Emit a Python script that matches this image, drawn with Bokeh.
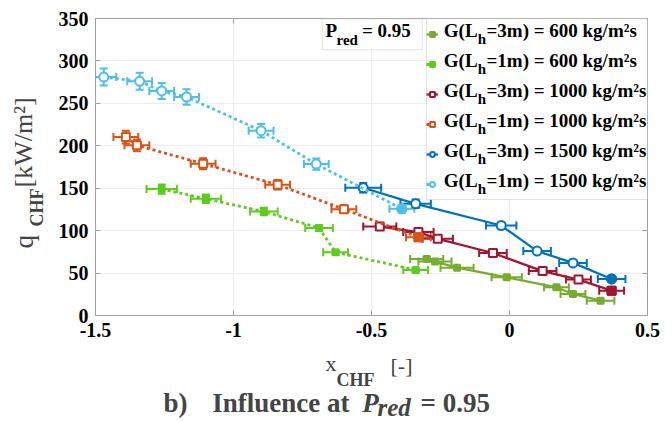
import math
from bokeh.plotting import figure
from bokeh.layouts import row, column
from bokeh.models import (Whisker, TeeHead, Label, Legend, LegendItem, BoxAnnotation,
                          FixedTicker, LinearAxis, ColumnDataSource, Range1d, CustomJSTickFormatter)
from bokeh.embed import file_html
from bokeh.resources import INLINE

# ---------------- data ----------------
x_3m_600 = [-0.30, -0.27, -0.19, -0.01, 0.17, 0.23, 0.33]
q_3m_600 = [66.7, 63.5, 56.4, 45.0, 33.2, 25.4, 17.5]
xe_3m_600 = [0.060, 0.060, 0.060, 0.055, 0.045, 0.045, 0.050]
qe_3m_600 = [2.5, 2.5, 2.0, 1.6, 1.2, 1.0, 0.7]

x_1m_600 = [-1.26, -1.10, -0.89, -0.69, -0.63, -0.34]
q_1m_600 = [149.0, 137.5, 122.5, 103.0, 74.5, 53.7]
xe_1m_600 = [0.055, 0.055, 0.050, 0.050, 0.045, 0.045]
qe_1m_600 = [5.5, 5.0, 4.5, 3.5, 2.5, 2.0]

x_3m_1000 = [-0.47, -0.33, -0.26, -0.06, 0.12, 0.25, 0.37]
q_3m_1000 = [104.8, 98.3, 90.3, 73.6, 52.3, 42.3, 29.3]
xe_3m_1000 = [0.060, 0.055, 0.055, 0.050, 0.050, 0.045, 0.045]
qe_3m_1000 = [4.0, 3.5, 3.2, 2.7, 2.0, 1.5, 1.0]

x_1m_1000 = [-1.39, -1.35, -1.11, -0.84, -0.60, -0.33]
q_1m_1000 = [210.3, 200.5, 178.9, 154.1, 125.3, 92.2]
xe_1m_1000 = [0.045, 0.045, 0.045, 0.045, 0.045, 0.045]
qe_1m_1000 = [7.5, 7.0, 6.5, 5.5, 4.5, 3.5]

x_3m_1500 = [-0.53, -0.34, -0.03, 0.10, 0.23, 0.37]
q_3m_1500 = [150.5, 131.6, 106.0, 75.9, 62.0, 43.1]
xe_3m_1500 = [0.065, 0.055, 0.055, 0.050, 0.050, 0.050]
qe_3m_1500 = [5.5, 5.0, 4.0, 2.8, 2.3, 1.6]

x_1m_1500 = [-1.47, -1.34, -1.26, -1.17, -0.90, -0.70, -0.39]
q_1m_1500 = [281.0, 276.0, 264.6, 257.5, 217.8, 178.4, 125.7]
xe_1m_1500 = [0.045, 0.045, 0.045, 0.045, 0.045, 0.045, 0.045]
qe_1m_1500 = [10.0, 10.0, 9.5, 9.0, 8.0, 6.5, 4.5]

x_ticks = [-1.5, -1.0, -0.5, 0.0, 0.5]
y_ticks = [0, 50, 100, 150, 200, 250, 300, 350]

legend_rest = ["=3m) = 600 kg/m\u00b2s", "=1m) = 600 kg/m\u00b2s",
               "=3m) = 1000 kg/m\u00b2s", "=1m) = 1000 kg/m\u00b2s",
               "=3m) = 1500 kg/m\u00b2s", "=1m) = 1500 kg/m\u00b2s"]

FONT = "Liberation Serif"
GRAY = "#a0a0a0"
SHIFT = 0.35     # empirical correction of the label anchor (fraction of font size)

# page geometry: left strip (y label) | main plot over caption strip
LW = 48                  # width of the left strip
MH = 350                 # height of the main figure
TOTAL_W, TOTAL_H = 672, 422
FL, FR, FT, FB = 95, 647, 18, 315   # plot frame edges on the page

p = figure(frame_width=FR - FL, frame_height=FB - FT,
           x_range=Range1d(-1.5, 0.5), y_range=Range1d(0, 350),
           output_backend="svg", toolbar_location=None,
           min_border_left=FL - LW, min_border_right=TOTAL_W - FR,
           min_border_top=FT, min_border_bottom=MH - FB)
p.title.visible = False
p.background_fill_color = "white"
p.border_fill_color = "white"
p.outline_line_color = GRAY
p.grid.grid_line_color = "#ececec"
p.grid.grid_line_width = 1

for ax in (p.xaxis[0], p.yaxis[0]):
    ax.axis_line_color = None
    ax.major_tick_in = 5
    ax.major_tick_out = 0
    ax.minor_tick_line_color = None
    ax.major_tick_line_color = GRAY
    ax.major_label_text_font = FONT
    ax.major_label_text_font_style = "bold"
    ax.major_label_text_font_size = "20px"
    ax.major_label_text_color = "black"
    ax.axis_label_standoff = 0
p.xaxis.ticker = FixedTicker(ticks=x_ticks)
p.yaxis.ticker = FixedTicker(ticks=y_ticks)
p.xaxis.formatter = CustomJSTickFormatter(code="return tick.toString();")
p.xaxis.major_label_standoff = 7
p.yaxis.major_label_standoff = 7

for loc, tk in (("right", y_ticks), ("above", x_ticks)):
    ax = LinearAxis(ticker=FixedTicker(ticks=tk), axis_line_color=None,
                    major_tick_in=5, major_tick_out=0, minor_tick_line_color=None,
                    major_tick_line_color=GRAY, major_label_text_font_size="0px",
                    major_label_standoff=0, axis_label_standoff=0)
    p.add_layout(ax, loc)

series = [
    (x_3m_600, q_3m_600, xe_3m_600, qe_3m_600, "#77AC30", False, "square", 6, True),
    (x_1m_600, q_1m_600, xe_1m_600, qe_1m_600, "#5ccd1e", True, "square", 6, True),
    (x_3m_1000, q_3m_1000, xe_3m_1000, qe_3m_1000, "#A2142F", False, "square", 8, False),
    (x_1m_1000, q_1m_1000, xe_1m_1000, qe_1m_1000, "#D95319", True, "square", 8, False),
    (x_3m_1500, q_3m_1500, xe_3m_1500, qe_3m_1500, "#0072BD", False, "circle", 9, False),
    (x_1m_1500, q_1m_1500, xe_1m_1500, qe_1m_1500, "#4DBEEE", True, "circle", 9, False),
]

items = []
for xs, qs, xe, qe, col, dotted, mk, sz, filled in series:
    src = ColumnDataSource(dict(
        x=xs, q=qs,
        xl=[a - e for a, e in zip(xs, xe)], xu=[a + e for a, e in zip(xs, xe)],
        ql=[a - e for a, e in zip(qs, qe)], qu=[a + e for a, e in zip(qs, qe)]))
    if dotted:
        ln = p.line("x", "q", source=src, line_color=col, line_width=2.8, line_dash="3 3")
    else:
        ln = p.line("x", "q", source=src, line_color=col, line_width=2.2)
    p.add_layout(Whisker(source=src, base="q", lower="xl", upper="xu", dimension="width",
                         line_color=col, line_width=2,
                         lower_head=TeeHead(size=8, line_color=col, line_width=2),
                         upper_head=TeeHead(size=8, line_color=col, line_width=2)))
    p.add_layout(Whisker(source=src, base="x", lower="ql", upper="qu", dimension="height",
                         line_color=col, line_width=2,
                         lower_head=TeeHead(size=8, line_color=col, line_width=2),
                         upper_head=TeeHead(size=8, line_color=col, line_width=2)))
    sc = p.scatter("x", "q", source=src, marker=mk, size=sz, line_color=col, line_width=2,
                   fill_color=col if filled else "white")
    if not filled:
        p.scatter(xs[-1:], qs[-1:], marker=mk, size=sz, line_color=col, line_width=2, fill_color=col)
    items.append(LegendItem(label=" ", renderers=[ln, sc]))


def sx(px):
    return px - FL


def sy(py):
    return FB - py


def box(left, top, right, bottom):
    p.add_layout(BoxAnnotation(left=sx(left), right=sx(right), top=sy(top), bottom=sy(bottom),
                               left_units="screen", right_units="screen",
                               top_units="screen", bottom_units="screen",
                               fill_color="white", fill_alpha=1.0, line_color=GRAY, line_width=1))


def txt(t, px, py, size, style="bold"):
    p.add_layout(Label(x=sx(px), y=sy(py - SHIFT * size), x_units="screen", y_units="screen",
                       text=t, text_font=FONT, text_font_style=style, text_font_size=f"{size}px",
                       text_color="black", text_align="left", text_baseline="alphabetic"))


# legend box, icons and texts
box(426, 18, 647, 199)
legend = Legend(items=items, location=(sx(426), sy(199)), orientation="vertical",
                padding=2, spacing=0, label_height=30, label_width=206, label_standoff=0,
                glyph_width=12, glyph_height=12, label_text_font_size="1px",
                border_line_color=None, background_fill_alpha=0.0, margin=0)
p.add_layout(legend)
for i, rest in enumerate(legend_rest):
    base = 36.7 + 30 * i
    txt("G(L", 443.3, base, 19)
    txt("h", 477.2, base + 6.6, 15)
    txt(rest, 486.0, base, 19)

# P_red box
box(321.7, 18.3, 421.7, 49.3)
txt("P", 325.0, 36.7, 19)
txt("red", 336.0, 45.0, 15)
txt("= 0.95", 361.5, 36.7, 19)


def strip(w, h, xr, yr, bl, br, bt, bb):
    f = figure(width=w, height=h, x_range=Range1d(*xr), y_range=Range1d(*yr),
               x_axis_type=None, y_axis_type=None, output_backend="svg", toolbar_location=None,
               min_border_left=bl, min_border_right=br, min_border_top=bt, min_border_bottom=bb,
               outline_line_color=None)
    f.title.visible = False
    f.grid.visible = False
    f.background_fill_color = "white"
    f.border_fill_color = "white"
    return f


# left strip: frame aligned with the plot frame; coordinates = (page x, 422 - page y)
left = strip(LW, TOTAL_H, (0, LW), (TOTAL_H - FB, TOTAL_H - FT), 0, 0, FT, TOTAL_H - FB)


def ltxt(t, px, py, size, style):
    # rotated text: the glyph "down" direction points to +x on the page
    left.add_layout(Label(x=px - SHIFT * size, y=TOTAL_H - py, text=t, text_font=FONT,
                          text_font_style=style, text_font_size=f"{size}px", text_align="left",
                          text_baseline="alphabetic", angle=math.pi / 2, angle_units="rad"))


ltxt("q", 33, 248, 27, "normal")
ltxt("CHF", 43, 226, 18, "bold")
ltxt("[kW/m\u00b2]", 32, 187, 26, "normal")

# bottom strip: frame aligned horizontally with the plot frame; coords = (page x, 422 - page y)
CH = TOTAL_H - MH
bottom = strip(TOTAL_W - LW, CH, (FL, FR), (0, CH), FL - LW, TOTAL_W - FR, 0, 0)


def btxt(t, px, py, size, style):
    bottom.add_layout(Label(x=px, y=TOTAL_H - (py - SHIFT * size), text=t, text_font=FONT,
                            text_font_style=style, text_font_size=f"{size}px",
                            text_align="left", text_baseline="alphabetic"))


btxt("x", 325, 371, 22, "normal")
btxt("CHF", 336, 386, 18, "bold")
btxt("[-]", 390, 373, 22, "normal")
btxt("b)", 163, 412, 27, "bold")
btxt("Influence at", 211.7, 412, 27, "bold")
btxt("P", 361.7, 412, 27, "bold italic")
btxt("red", 377, 416, 25, "bold italic")
btxt("= 0.95", 420, 412, 27, "bold")

layout = row(left, column(p, bottom, spacing=0), spacing=0)
open("out.html", "w").write(file_html(layout, INLINE))
